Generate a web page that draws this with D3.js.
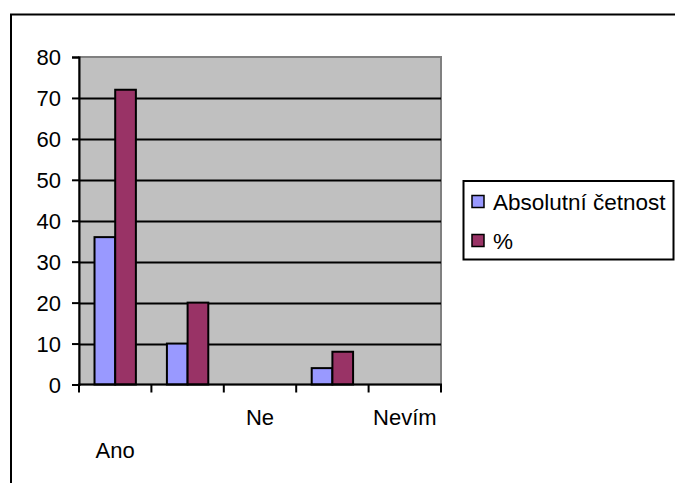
<!DOCTYPE html>
<html>
<head>
<meta charset="utf-8">
<script src="https://cdn.jsdelivr.net/npm/d3@7"></script>
<style>
  html, body { margin: 0; padding: 0; background: #fff; }
  svg { display: block; }
  text { font-family: "Liberation Sans", Arial, sans-serif; fill: #000; }
</style>
</head>
<body>
<script>
// Survey answers
const categories = ["Ano", "", "Ne", "", "Nevím"];
const seriesNames = ["Absolutní četnost", "%"];
const absolutni = [36, 10, 0, 4, 0];
const procenta = [72, 20, 0, 8, 0];
const yTicks = [0, 10, 20, 30, 40, 50, 60, 70, 80];
const seriesColors = ["#9999FF", "#993366"];

const W = 675, H = 483;
const plot = { left: 79, right: 441, top: 57, bottom: 384.5 };
const fontSize = 22;

const svg = d3.select("body").append("svg").attr("width", W).attr("height", H);

// Chart frame (runs off the bottom and right edges)
svg.append("rect")
  .attr("x", 11).attr("y", 14.5).attr("width", W + 20).attr("height", H + 20)
  .attr("fill", "#fff").attr("stroke", "#000").attr("stroke-width", 2);

const x0 = d3.scaleBand().domain(d3.range(categories.length))
  .range([plot.left, plot.right]).paddingInner(0).paddingOuter(0);
const x1 = d3.scaleBand().domain(d3.range(seriesNames.length))
  .range([0, x0.bandwidth()]).paddingInner(0).paddingOuter(0.75);
const y = d3.scaleLinear().domain([0, 80]).range([plot.bottom, plot.top]);

// Plot area
svg.append("rect")
  .attr("x", plot.left).attr("y", plot.top)
  .attr("width", plot.right - plot.left).attr("height", plot.bottom - plot.top)
  .attr("fill", "#C0C0C0").attr("stroke", "#808080").attr("stroke-width", 2);

// Gridlines
svg.append("g").selectAll("line").data(yTicks.filter(t => t > 0 && t < 80)).join("line")
  .attr("x1", plot.left).attr("x2", plot.right)
  .attr("y1", d => Math.round(y(d)) + 0.5).attr("y2", d => Math.round(y(d)) + 0.5)
  .attr("stroke", "#000").attr("stroke-width", 2);

// Bars
const series = [absolutni, procenta];
const groups = svg.append("g").selectAll("g").data(categories.map((c, i) => i)).join("g")
  .attr("transform", i => `translate(${x0(i)},0)`);
groups.selectAll("rect")
  .data(i => series.map((s, k) => ({ k, v: s[i] })).filter(d => d.v > 0))
  .join("rect")
  .attr("x", d => x1(d.k)).attr("width", x1.bandwidth())
  .attr("y", d => y(d.v)).attr("height", d => y(0) - y(d.v))
  .attr("fill", d => seriesColors[d.k]).attr("stroke", "#000").attr("stroke-width", 2);

// Y axis
const yAxis = svg.append("g").attr("transform", `translate(${plot.left},0)`)
  .call(d3.axisLeft(y).tickValues(yTicks).tickSize(7).tickPadding(11).tickFormat(d3.format("d")));
yAxis.select(".domain").attr("stroke", "#000").attr("stroke-width", 2);
yAxis.selectAll(".tick line").attr("stroke", "#000").attr("stroke-width", 2);
yAxis.selectAll(".tick text")
  .attr("font-size", fontSize).attr("font-family", "Liberation Sans, Arial, sans-serif")
  .attr("fill", "#000").attr("dy", "0.36em");

// X axis: ticks at category boundaries
const boundaries = categories.map((c, i) => x0(i)).concat([plot.right]);
const xAxis = svg.append("g");
xAxis.append("line")
  .attr("x1", plot.left - 1).attr("x2", plot.right + 1)
  .attr("y1", plot.bottom).attr("y2", plot.bottom)
  .attr("stroke", "#000").attr("stroke-width", 2);
xAxis.selectAll(".tk").data(boundaries).join("line").attr("class", "tk")
  .attr("x1", d => d).attr("x2", d => d)
  .attr("y1", plot.bottom).attr("y2", plot.bottom + 8)
  .attr("stroke", "#000").attr("stroke-width", 2);

// Category labels, staggered over two rows
const rowY = [425, 458];
xAxis.selectAll(".lbl").data(categories.map((c, i) => ({ c, i }))).join("text").attr("class", "lbl")
  .attr("text-anchor", "middle").attr("font-size", fontSize)
  .attr("x", d => x0(d.i) + x0.bandwidth() / 2)
  .attr("y", d => rowY[d.i === 0 ? 1 : 0])
  .text(d => d.c);

// Legend
const lg = svg.append("g");
lg.append("rect").attr("x", 463.5).attr("y", 181).attr("width", 210).attr("height", 78.5)
  .attr("fill", "#fff").attr("stroke", "#000").attr("stroke-width", 2);
const items = lg.selectAll(".item").data(seriesNames).join("g").attr("class", "item")
  .attr("transform", (d, i) => `translate(0,${i * 39})`);
items.append("rect").attr("x", 472).attr("y", 195.5).attr("width", 12).attr("height", 12)
  .attr("fill", (d, i) => seriesColors[i]).attr("stroke", "#000").attr("stroke-width", 1.5);
items.append("text").attr("font-size", fontSize + 0.5)
  .attr("x", 493).attr("y", 210)
  .text(d => d);
</script>
</body>
</html>
